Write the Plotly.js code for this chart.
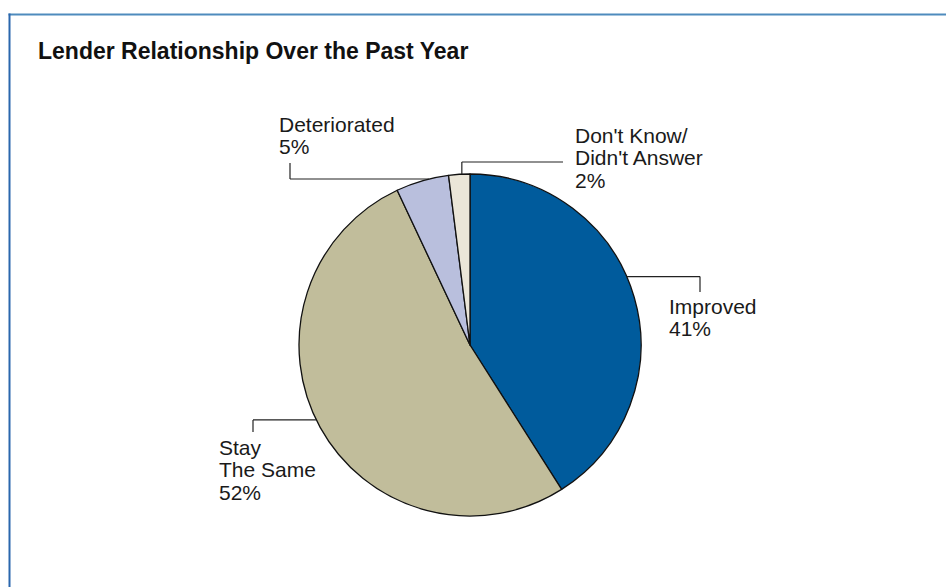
<!DOCTYPE html>
<html>
<head>
<meta charset="utf-8">
<script src="https://cdn.plot.ly/plotly-3.0.1.min.js"></script>
<style>html,body{margin:0;padding:0;background:#fff;}#chart{width:946px;height:587px;}</style>
</head>
<body>
<div id="chart"></div>
<script>
// ---- data ----
const categories = ["Improved", "Stay The Same", "Deteriorated", "Don't Know/Didn't Answer"];
const values = [41, 52, 5, 2];
const nameLines = [["Improved"], ["Stay", "The Same"], ["Deteriorated"], ["Don't Know/", "Didn't Answer"]];
const colors = ["#005b9c", "#c1bd9b", "#b9bfdd", "#ebe6d8"];
const chartTitle = "Lender Relationship Over the Past Year";

// ---- layout geometry (pixels) ----
const W = 946, H = 587;
const cx = 470, cy = 345, R = 171;
const FS = 21, PITCH = 22.5;
// leader / label placement per slice
const labelSpec = [
  {frac: 0.45, mode: "hv", elbowX: 700, endY: 292, textX: 667, firstBase: 314},
  {frac: 0.515, mode: "hv", elbowX: 253, endY: 432, textX: 217, firstBase: 455},
  {frac: 0.63, mode: "hv", elbowX: 290, endY: 163, textX: 277, firstBase: 132},
  {frac: 0.62, mode: "vh", elbowY: 162, endX: 563, textX: 573, firstBase: 143}
];

const px = x => x / W;
const py = y => 1 - y / H;

const total = values.reduce((a, b) => a + b, 0);
const shapes = [];
const annotations = [];
let cum = 0;
values.forEach((v, i) => {
  const spec = labelSpec[i];
  const a0 = cum / total * 360;
  const a1 = (cum + v) / total * 360;
  cum += v;
  const th = (a0 + (a1 - a0) * spec.frac) * Math.PI / 180;
  const ax = cx + R * Math.sin(th), ay = cy - R * Math.cos(th);
  const ln = {color: "#222", width: 1.2};
  if (spec.mode === "hv") {
    shapes.push({type: "line", xref: "paper", yref: "paper", x0: px(ax), y0: py(ay), x1: px(spec.elbowX), y1: py(ay), line: ln});
    shapes.push({type: "line", xref: "paper", yref: "paper", x0: px(spec.elbowX), y0: py(ay), x1: px(spec.elbowX), y1: py(spec.endY), line: ln});
  } else {
    shapes.push({type: "line", xref: "paper", yref: "paper", x0: px(ax), y0: py(ay), x1: px(ax), y1: py(spec.elbowY), line: ln});
    shapes.push({type: "line", xref: "paper", yref: "paper", x0: px(ax), y0: py(spec.elbowY), x1: px(spec.endX), y1: py(spec.elbowY), line: ln});
  }
  const lines = nameLines[i].concat([v + "%"]);
  lines.forEach((t, k) => {
    const base = spec.firstBase + k * PITCH;
    annotations.push({
      text: t, xref: "paper", yref: "paper", x: px(spec.textX), y: py(base - FS * 0.36),
      xanchor: "left", yanchor: "middle", showarrow: false,
      font: {family: "Liberation Sans, Arial, sans-serif", size: FS, color: "#1a1a1a"}
    });
  });
});

// frame lines
shapes.push({type: "line", xref: "paper", yref: "paper", x0: px(8.5), y0: py(14.5), x1: px(946), y1: py(14.5), line: {color: "#4f8bbd", width: 2}});
shapes.push({type: "line", xref: "paper", yref: "paper", x0: px(9.5), y0: py(13.5), x1: px(9.5), y1: py(587), line: {color: "#2a67ad", width: 2}});

annotations.push({
  text: "<b>" + chartTitle + "</b>", xref: "paper", yref: "paper", x: px(36), y: py(51),
  xanchor: "left", yanchor: "middle", showarrow: false,
  font: {family: "Liberation Sans, Arial, sans-serif", size: 23, color: "#111"}
});

const trace = {
  type: "pie",
  labels: categories,
  values: values,
  sort: false,
  direction: "clockwise",
  rotation: 0,
  textinfo: "none",
  hoverinfo: "label+percent",
  showlegend: false,
  marker: {colors: colors, line: {color: "#111", width: 1.3}},
  domain: {x: [px(cx - R), px(cx + R)], y: [py(cy + R), py(cy - R)]}
};

Plotly.newPlot("chart", [trace], {
  width: W, height: H,
  margin: {l: 0, r: 0, t: 0, b: 0},
  paper_bgcolor: "#fff",
  showlegend: false,
  shapes: shapes,
  annotations: annotations
}, {displayModeBar: false, staticPlot: true});
</script>
</body>
</html>
